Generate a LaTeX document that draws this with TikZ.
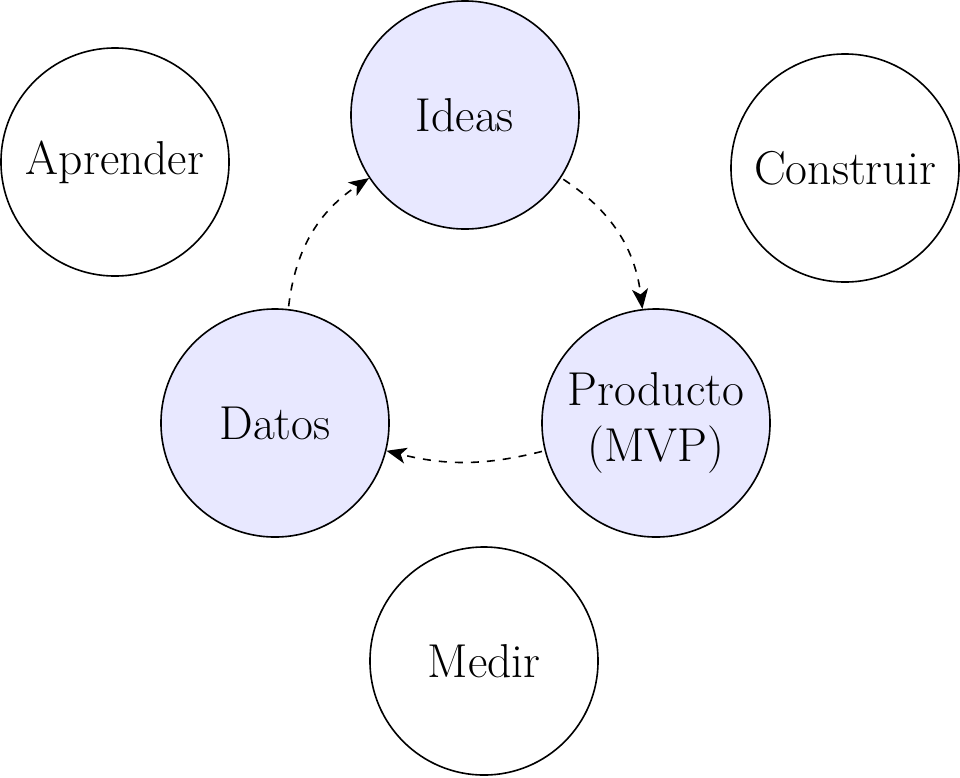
\documentclass[tikz,border=0pt]{standalone}
\usetikzlibrary{arrows.meta}
\begin{document}
\begin{tikzpicture}[
    etapa/.style={circle, draw, semithick, minimum size=3cm, inner sep=0pt, align=center, font=\fontsize{17.8}{21}\selectfont},
    ciclo/.style={etapa, fill=blue!9},
    flecha/.style={-{Stealth[length=7.5pt, width=6pt, inset=2pt]}, semithick, dashed, shorten <=1pt}
  ]
    \pgfmathsetmacro{\px}{1/76};
    \useasboundingbox (0,0) rectangle (960*\px,-777*\px);
    % nodos del ciclo
    \node[ciclo] (ideas) at (465*\px,-115*\px) {Ideas};
    \node[ciclo] (producto) at (656*\px,-423*\px) {Producto\\(MVP)};
    \node[ciclo] (datos) at (275*\px,-423*\px) {Datos};
    % etapas
    \node[etapa] (aprender) at (115*\px,-162*\px) {Aprender};
    \node[etapa] (construir) at (845*\px,-168*\px) {Construir};
    \node[etapa] (medir) at (484*\px,-661*\px) {Medir};
    % flechas
    \draw[flecha] (ideas) to[bend left=25] (producto);
    \draw[flecha] (producto) to[bend left=14] (datos);
    \draw[flecha] (datos) to[bend left=25] (ideas);
\end{tikzpicture}
\end{document}
